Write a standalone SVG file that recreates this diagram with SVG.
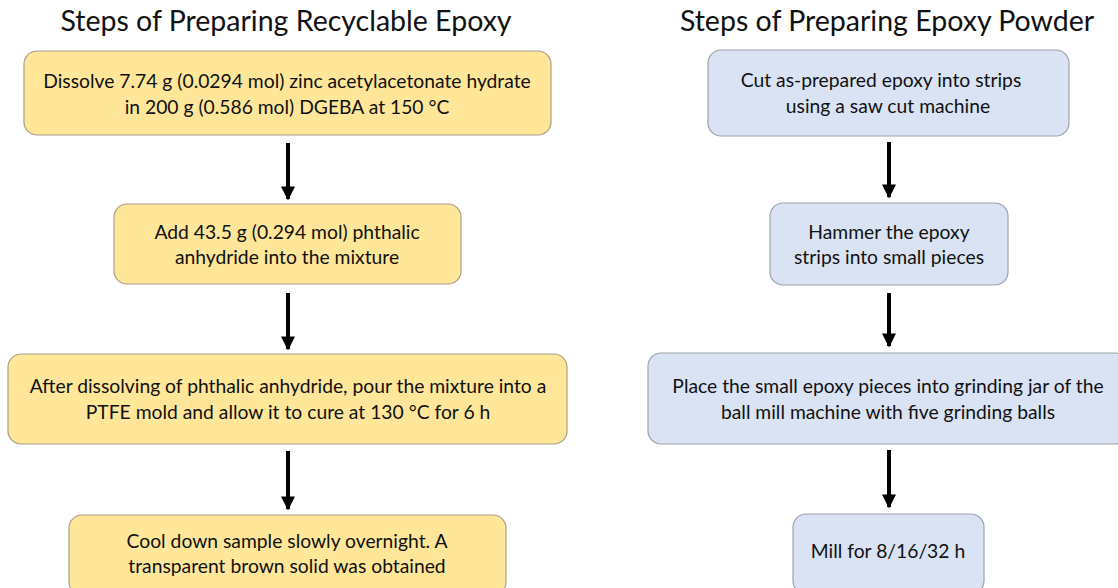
<svg xmlns="http://www.w3.org/2000/svg" width="1118" height="588" viewBox="0 0 1118 588">
<defs>
<style>
.title{font-family:Lato,"Open Sans",sans-serif;font-size:28.5px;fill:#111;text-anchor:middle}
.t{font-family:Lato,"Open Sans",sans-serif;font-size:19.3px;fill:#111;text-anchor:middle}
.y{fill:#FFE699;stroke:#A8A08C;stroke-width:1.2}
.b{fill:#DAE3F3;stroke:#9DA3AC;stroke-width:1.2}
.c{stroke:#000;stroke-width:4;fill:none;marker-end:url(#ah)}
</style>
<marker id="ah" viewBox="0 0 10 10" refX="9" refY="5" markerWidth="4" markerHeight="3.5" orient="auto" markerUnits="strokeWidth">
<path d="M0,0 L10,5 L0,10 z" fill="#000"/>
</marker>
</defs>
<rect width="1118" height="588" fill="#fff"/>
<text class="title" x="286" y="31">Steps of Preparing Recyclable Epoxy</text>
<text class="title" x="887" y="31">Steps of Preparing Epoxy Powder</text>
<g id="connectors">
<line class="c" x1="288" y1="143" x2="288" y2="199"/>
<line class="c" x1="288" y1="293" x2="288" y2="349"/>
<line class="c" x1="288" y1="451" x2="288" y2="509"/>
<line class="c" x1="889" y1="142" x2="889" y2="197"/>
<line class="c" x1="889" y1="293" x2="889" y2="346"/>
<line class="c" x1="889" y1="450" x2="889" y2="507"/>
</g>
<g id="l1"><rect class="y" x="24" y="51" width="527" height="84" rx="13"/>
<text class="t" x="287" y="88">Dissolve 7.74 g (0.0294 mol) zinc acetylacetonate hydrate</text>
<text class="t" x="287" y="114">in 200 g (0.586 mol) DGEBA at 150 °C</text></g>
<g id="l2"><rect class="y" x="114" y="204" width="347" height="80" rx="13"/>
<text class="t" x="287" y="239">Add 43.5 g (0.294 mol) phthalic</text>
<text class="t" x="287" y="264">anhydride into the mixture</text></g>
<g id="l3"><rect class="y" x="8" y="354" width="559" height="90" rx="13"/>
<text class="t" x="288" y="393">After dissolving of phthalic anhydride, pour the mixture into a</text>
<text class="t" x="288" y="419">PTFE mold and allow it to cure at 130 °C for 6 h</text></g>
<g id="l4"><rect class="y" x="69" y="515" width="437" height="80" rx="13"/>
<text class="t" x="287" y="548">Cool down sample slowly overnight. A</text>
<text class="t" x="287" y="573">transparent brown solid was obtained</text></g>
<g id="r1"><rect class="b" x="708" y="50" width="361" height="86" rx="13"/>
<text class="t" x="881" y="87">Cut as-prepared epoxy into strips</text>
<text class="t" x="888" y="113">using a saw cut machine</text></g>
<g id="r2"><rect class="b" x="770" y="203" width="238" height="82" rx="13"/>
<text class="t" x="889" y="239">Hammer the epoxy</text>
<text class="t" x="889" y="264">strips into small pieces</text></g>
<g id="r3"><rect class="b" x="648" y="353" width="480" height="91" rx="13"/>
<text class="t" x="888" y="393">Place the small epoxy pieces into grinding jar of the</text>
<text class="t" x="888" y="419">ball mill machine with five grinding balls</text></g>
<g id="r4"><rect class="b" x="793" y="514" width="191" height="80" rx="13"/>
<text class="t" x="888" y="558">Mill for 8/16/32 h</text></g>
</svg>
